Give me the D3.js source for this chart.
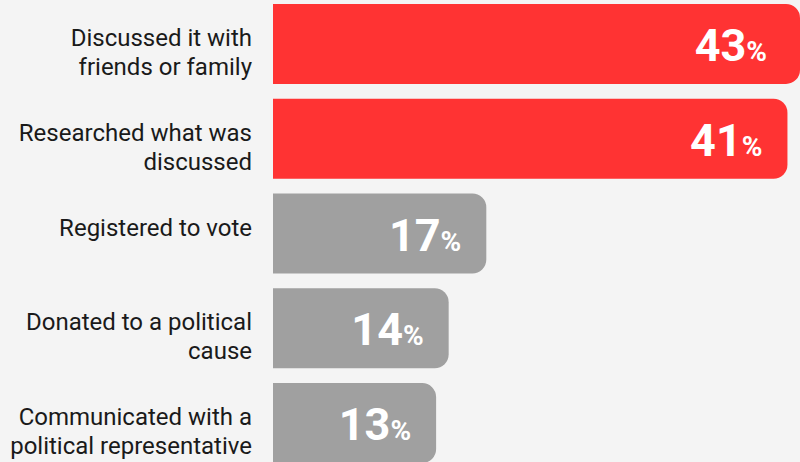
<!DOCTYPE html>
<html>
<head>
<meta charset="utf-8">
<script src="https://cdn.jsdelivr.net/npm/d3@7"></script>
<style>
  html, body { margin: 0; padding: 0; background: #f4f4f4; }
  svg { display: block; font-family: Roboto, "Noto Sans", sans-serif; }
</style>
</head>
<body>
<script>
// chart data
const categories = [
  ["Discussed it with", "friends or family"],
  ["Researched what was", "discussed"],
  ["Registered to vote"],
  ["Donated to a political", "cause"],
  ["Communicated with a", "political representative"]
];
const values = [43, 41, 17, 14, 13];
const highlight = [true, true, false, false, false];

const width = 800, height = 462;
const barLeft = 273; // bars start here, labels sit left of it
const radius = 14;

const svg = d3.select("body").append("svg")
  .attr("width", width)
  .attr("height", height);

svg.append("rect").attr("width", width).attr("height", height).attr("fill", "#f4f4f4");

// x scale clamps so the largest bar runs to the edge
const xScale = d3.scaleLinear()
  .domain([0, 42])
  .range([barLeft, width])
  .clamp(true);

const yScale = d3.scaleBand()
  .domain(d3.range(values.length))
  .range([4, 463])
  .paddingInner(0.156)
  .paddingOuter(0);

const bw = yScale.bandwidth();

function barPath(i) {
  const x0 = xScale(0), x1 = xScale(values[i]);
  const y0 = yScale(i), y1 = y0 + bw;
  return "M" + x0 + "," + y0 +
    "H" + (x1 - radius) +
    "A" + radius + "," + radius + " 0 0 1 " + x1 + "," + (y0 + radius) +
    "V" + (y1 - radius) +
    "A" + radius + "," + radius + " 0 0 1 " + (x1 - radius) + "," + y1 +
    "H" + x0 + "Z";
}

const rows = svg.selectAll("g.row")
  .data(values)
  .enter()
  .append("g")
  .attr("class", "row");

rows.append("path")
  .attr("d", (d, i) => barPath(i))
  .attr("fill", (d, i) => highlight[i] ? "#ff3333" : "#a0a0a0");

// value labels inside the bars
const valText = rows.append("text")
  .attr("x", (d, i) => Math.min(xScale(d), 792) - 25)
  .attr("y", (d, i) => yScale(i) + bw / 2 + 17)
  .attr("text-anchor", "end")
  .attr("fill", "#ffffff")
  .attr("font-weight", "bold");
valText.append("tspan").attr("font-size", 45).text(d => d);
valText.append("tspan").attr("font-size", 28).text("%");

// category labels, right aligned
rows.append("text")
  .attr("text-anchor", "end")
  .attr("font-size", 24)
  .attr("fill", "#1a1a1a")
  .each(function(d, i) {
    const t = d3.select(this);
    categories[i].forEach((line, k) => {
      t.append("tspan")
        .attr("x", 252)
        .attr("y", yScale(i) + bw / 2 + 2 + k * 29)
        .text(line);
    });
  });
</script>
</body>
</html>
